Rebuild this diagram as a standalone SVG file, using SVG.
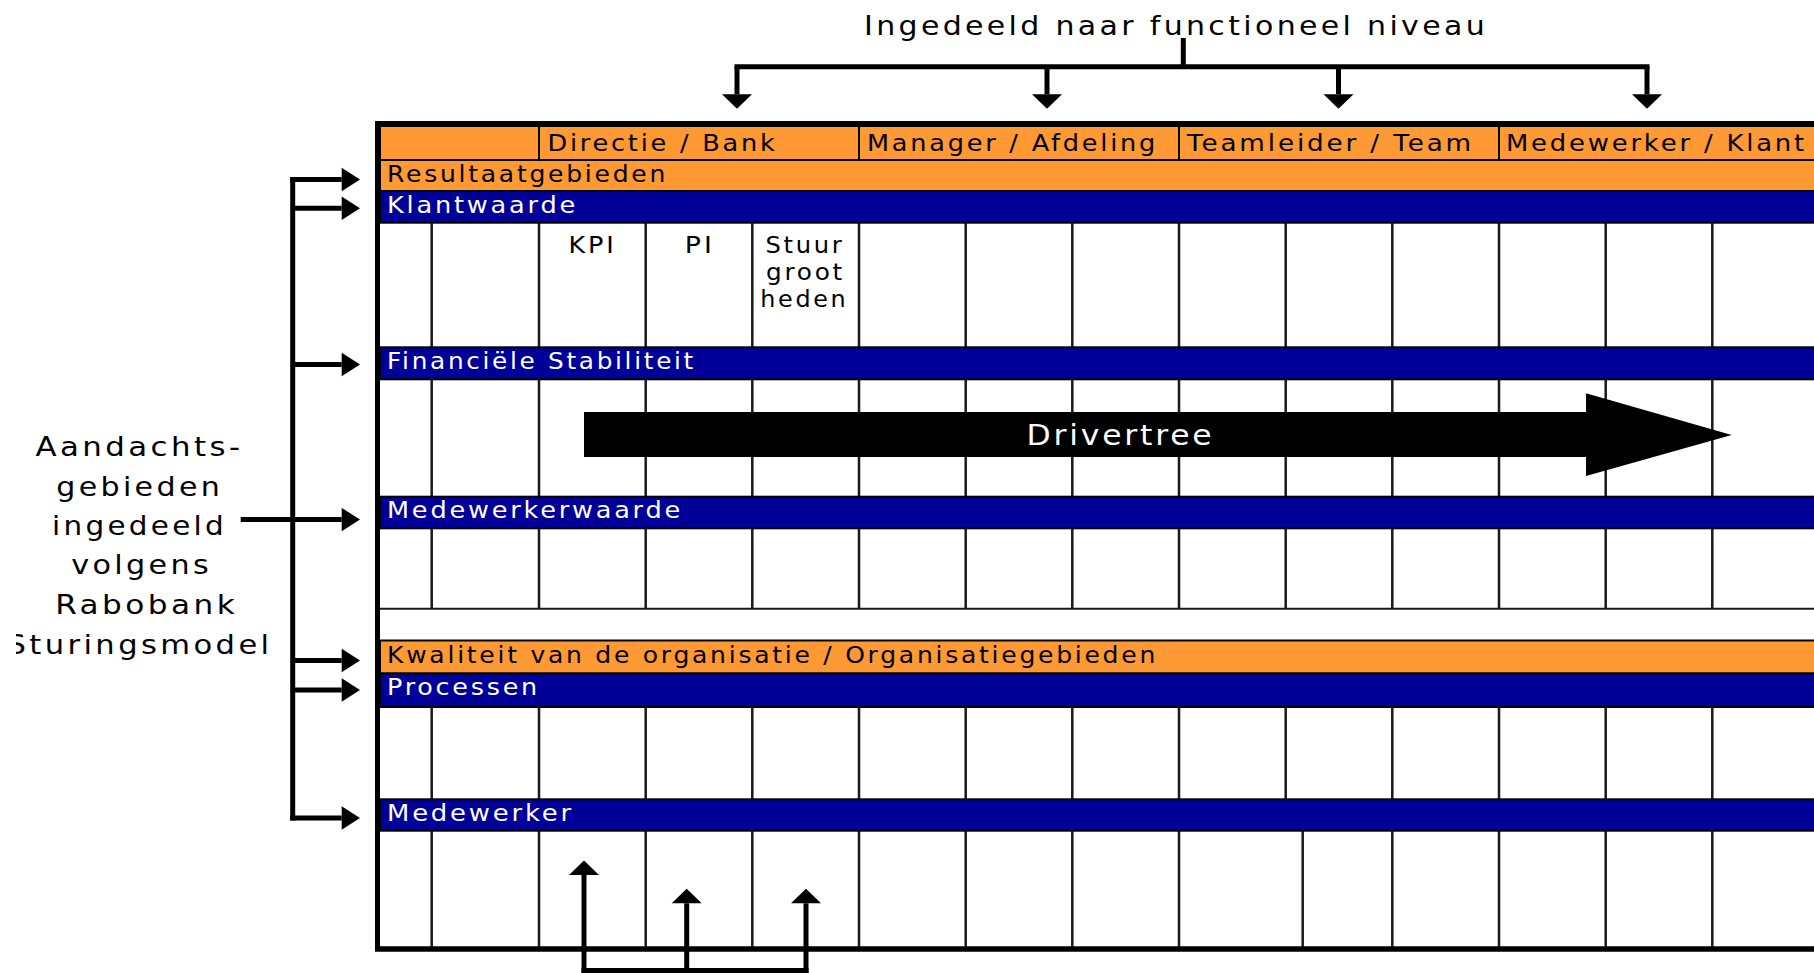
<svg xmlns="http://www.w3.org/2000/svg" width="1814" height="973" viewBox="0 0 1814 973">
<defs>
<style>
.t{font-family:"DejaVu Sans","Liberation Sans",sans-serif;letter-spacing:2.5px}
.lbl{font-size:23px;fill:#000}
.wl{font-size:23px;fill:#fff}
.cell{font-size:22.5px;fill:#000;text-anchor:middle}
.big{font-size:27px;fill:#000;letter-spacing:3px}
.or{fill:#ff9933;stroke:#000;stroke-width:2}
.bl{fill:#000099;stroke:#000;stroke-width:2}
.grid{stroke:#1a1a1a;stroke-width:2.5;fill:none}
.conn{stroke:#000;stroke-width:5;fill:none}
.al{marker-end:url(#ahL)}
.as{marker-end:url(#ahS)}
</style>
<marker id="ahL" markerUnits="userSpaceOnUse" markerWidth="20" markerHeight="24" refX="0" refY="0" orient="auto" overflow="visible"><path d="M0,-11.7 L18.3,0 L0,11.7 z" fill="#000"/></marker>
<marker id="ahS" markerUnits="userSpaceOnUse" markerWidth="16" markerHeight="30" refX="0" refY="0" orient="auto" overflow="visible"><path d="M0,-15 L14.5,0 L0,15 z" fill="#000"/></marker>
<clipPath id="leftclip"><rect x="16" y="400" width="300" height="300"/></clipPath>
</defs>
<rect x="0" y="0" width="1814" height="973" fill="#fff"/>

<g id="table">
<rect x="377.5" y="123.5" width="1470" height="825.5" fill="#fff" stroke="#000" stroke-width="5"/>
<g id="grid" class="grid">
<path d="M431.7 222.7V347.3M539 222.7V347.3M645.7 222.7V347.3M752.3 222.7V347.3M859 222.7V347.3M965.7 222.7V347.3M1072.3 222.7V347.3M1179 222.7V347.3M1285.7 222.7V347.3M1392.3 222.7V347.3M1499 222.7V347.3M1605.7 222.7V347.3M1712.3 222.7V347.3"/>
<path d="M431.7 379.3V496.7M539 379.3V496.7M645.7 379.3V496.7M752.3 379.3V496.7M859 379.3V496.7M965.7 379.3V496.7M1072.3 379.3V496.7M1179 379.3V496.7M1285.7 379.3V496.7M1392.3 379.3V496.7M1499 379.3V496.7M1605.7 379.3V496.7M1712.3 379.3V496.7"/>
<path d="M431.7 528.3V608.8M539 528.3V608.8M645.7 528.3V608.8M752.3 528.3V608.8M859 528.3V608.8M965.7 528.3V608.8M1072.3 528.3V608.8M1179 528.3V608.8M1285.7 528.3V608.8M1392.3 528.3V608.8M1499 528.3V608.8M1605.7 528.3V608.8M1712.3 528.3V608.8"/>
<path d="M380 608.8H1830" stroke-width="2"/>
<path d="M431.7 707V799.3M539 707V799.3M645.7 707V799.3M752.3 707V799.3M859 707V799.3M965.7 707V799.3M1072.3 707V799.3M1179 707V799.3M1285.7 707V799.3M1392.3 707V799.3M1499 707V799.3M1605.7 707V799.3M1712.3 707V799.3"/>
<path d="M431.7 830.7V947M539 830.7V947M645.7 830.7V947M752.3 830.7V947M859 830.7V947M965.7 830.7V947M1072.3 830.7V947M1179 830.7V947M1302.7 830.7V947M1392.3 830.7V947M1499 830.7V947M1605.7 830.7V947M1712.3 830.7V947"/>
</g>
<g id="header">
<rect class="or" x="380" y="126" width="1450" height="34"/>
<path d="M539 126V160M859 126V160M1179 126V160M1499 126V160" stroke="#000" stroke-width="2"/>
<text class="t lbl" x="547.5" y="151" textLength="230" lengthAdjust="spacingAndGlyphs">Directie / Bank</text>
<text class="t lbl" x="867" y="151" textLength="291" lengthAdjust="spacingAndGlyphs">Manager / Afdeling</text>
<text class="t lbl" x="1187" y="151" textLength="287" lengthAdjust="spacingAndGlyphs">Teamleider / Team</text>
<text class="t lbl" x="1506" y="151" textLength="301" lengthAdjust="spacingAndGlyphs">Medewerker / Klant</text>
</g>
<g id="resultaatgebieden"><rect class="or" x="380" y="160" width="1450" height="31"/><text class="t lbl" x="387" y="181.5" textLength="281" lengthAdjust="spacingAndGlyphs">Resultaatgebieden</text></g>
<g id="klantwaarde"><rect class="bl" x="380" y="191" width="1450" height="31.7"/><text class="t wl" x="387" y="213" textLength="191" lengthAdjust="spacingAndGlyphs">Klantwaarde</text></g>
<g id="kolomkoppen">
<text class="t cell" x="592.5" y="252.7" textLength="48" lengthAdjust="spacingAndGlyphs">KPI</text>
<text class="t cell" x="699.8" y="252.7" textLength="30" lengthAdjust="spacingAndGlyphs">PI</text>
<text class="t cell" x="805" y="252.7" textLength="79" lengthAdjust="spacingAndGlyphs">Stuur</text>
<text class="t cell" x="805.5" y="280" textLength="79" lengthAdjust="spacingAndGlyphs">groot</text>
<text class="t cell" x="804.3" y="306.7" textLength="88" lengthAdjust="spacingAndGlyphs">heden</text>
</g>
<g id="financiele-stabiliteit"><rect class="bl" x="380" y="347.3" width="1450" height="32"/><text class="t wl" x="387" y="368.5" textLength="309" lengthAdjust="spacingAndGlyphs">Financiële Stabiliteit</text></g>
<g id="medewerkerwaarde"><rect class="bl" x="380" y="496.7" width="1450" height="31.6"/><text class="t wl" x="387" y="518" textLength="296" lengthAdjust="spacingAndGlyphs">Medewerkerwaarde</text></g>
<g id="kwaliteit"><rect class="or" x="380" y="640.5" width="1450" height="33"/><text class="t lbl" x="387" y="663" textLength="771" lengthAdjust="spacingAndGlyphs">Kwaliteit van de organisatie / Organisatiegebieden</text></g>
<g id="processen"><rect class="bl" x="380" y="673.5" width="1450" height="33.5"/><text class="t wl" x="387" y="695" textLength="153" lengthAdjust="spacingAndGlyphs">Processen</text></g>
<g id="medewerker"><rect class="bl" x="380" y="799.3" width="1450" height="31.4"/><text class="t wl" x="387" y="821" textLength="187" lengthAdjust="spacingAndGlyphs">Medewerker</text></g>
<rect x="377.5" y="123.5" width="1470" height="825.5" fill="none" stroke="#000" stroke-width="5"/>
</g>

<g id="drivertree">
<polygon points="584,412 1586,412 1586,393.3 1731.7,435 1586,476 1586,457 584,457" fill="#000"/>
<text class="t" x="1120.5" y="445" font-size="28" fill="#fff" text-anchor="middle" textLength="188" lengthAdjust="spacingAndGlyphs">Drivertree</text>
</g>

<g id="titel-functioneel"><text class="t big" x="864" y="35" textLength="624" lengthAdjust="spacingAndGlyphs">Ingedeeld naar functioneel niveau</text></g>
<g id="titel-aandacht" class="t big" text-anchor="middle" clip-path="url(#leftclip)">
<text x="139.5" y="455.8" textLength="208" lengthAdjust="spacingAndGlyphs">Aandachts-</text>
<text x="139.7" y="496" textLength="167" lengthAdjust="spacingAndGlyphs">gebieden</text>
<text x="139.5" y="534.8" textLength="175" lengthAdjust="spacingAndGlyphs">ingedeeld</text>
<text x="141.7" y="574" textLength="141" lengthAdjust="spacingAndGlyphs">volgens</text>
<text x="146.7" y="614.3" textLength="183" lengthAdjust="spacingAndGlyphs">Rabobank</text>
<text x="139.5" y="653.6" textLength="266" lengthAdjust="spacingAndGlyphs">Sturingsmodel</text>
</g>

<g id="connectors" class="conn">
<path d="M1183.3 38V66.7"/>
<path d="M734.5 66.7H1649.5"/>
<path class="as" d="M737 66.7V94.3"/>
<path class="as" d="M1047 66.7V94.3"/>
<path class="as" d="M1338.5 66.7V94.3"/>
<path class="as" d="M1647 66.7V94.3"/>
<path d="M292.7 177V820.5"/>
<path class="al" d="M290.2 179.5H341.7"/>
<path class="al" d="M292.7 208.3H341.7"/>
<path class="al" d="M292.7 364.5H341.7"/>
<path class="al" d="M240.7 519.6H341.7"/>
<path class="al" d="M292.7 660.5H341.7"/>
<path class="al" d="M292.7 690H341.7"/>
<path class="al" d="M290.2 818H341.7"/>
<path d="M581.5 970.5H808.5"/>
<path class="as" d="M584 973V875"/>
<path class="as" d="M686.7 973V903.3"/>
<path class="as" d="M806 973V903.3"/>
</g>
</svg>
